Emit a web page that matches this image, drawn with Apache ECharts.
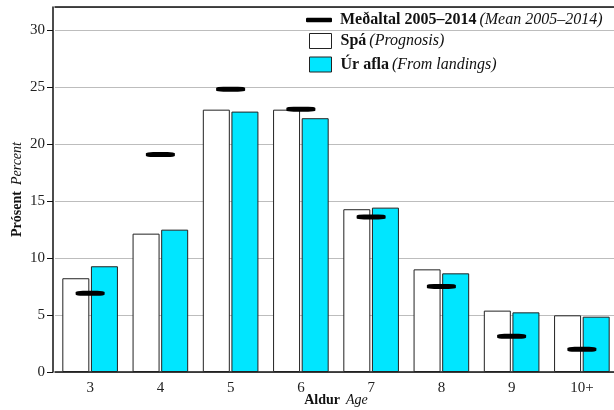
<!DOCTYPE html>
<html>
<head>
<meta charset="utf-8">
<script src="https://cdn.jsdelivr.net/npm/echarts@6/dist/echarts.min.js"></script>
<style>html,body{margin:0;padding:0;background:#fff}#c{width:614px;height:410px}</style>
</head>
<body>
<div id="c"></div>
<script>
const ages = ['3','4','5','6','7','8','9','10+'];
const prognosis = [8.22, 12.13, 23.0, 23.0, 14.27, 9.0, 5.38, 4.97];
const landings = [9.27, 12.48, 22.83, 22.25, 14.41, 8.65, 5.23, 4.85];
const mean0514 = [6.9, 19.06, 24.8, 23.04, 13.6, 7.5, 3.13, 1.99];
const yTicks = [0, 5, 10, 15, 20, 25, 30];

const serif = 'Liberation Serif';
const chart = echarts.init(document.getElementById('c'), null, {renderer: 'canvas'});
chart.setOption({
  animation: false,
  backgroundColor: '#fff',
  textStyle: {fontFamily: serif, color: '#111'},
  grid: {left: 55, top: 7, width: 562, bottom: 38, containLabel: false, outerBoundsMode: 'none'},
  xAxis: [{
    type: 'category', data: ages, position: 'bottom',
    axisLine: {lineStyle: {color: '#111', width: 1.5}},
    axisTick: {show: false},
    axisLabel: {fontFamily: serif, fontSize: 15, color: '#222', margin: 9},
    name: '{b|Aldur}  {i|Age}', nameLocation: 'middle', nameGap: 21, nameMoveOverlap: false,
    nameTextStyle: {rich: {
      b: {fontFamily: serif, fontWeight: 'bold', fontSize: 14, color: '#111'},
      i: {fontFamily: serif, fontStyle: 'italic', fontSize: 14, color: '#111'}
    }}
  }, {
    type: 'category', data: ages, position: 'top',
    axisLine: {show: true, lineStyle: {color: '#111', width: 1.5}},
    axisTick: {show: false}, axisLabel: {show: false}
  }],
  yAxis: {
    type: 'value', min: 0, max: 32, interval: 5, offset: 2,
    axisLine: {show: true, lineStyle: {color: '#111', width: 1.5}},
    axisTick: {show: true, length: 6, lineStyle: {color: '#111'}},
    axisLabel: {fontFamily: serif, fontSize: 15, color: '#222', margin: 8, showMaxLabel: false,
      formatter: v => yTicks.includes(v) ? String(v) : ''},
    splitLine: {lineStyle: {color: '#bdbdbd', width: 1}},
    name: '{b|Prósent}  {i|Percent}', nameLocation: 'middle', nameGap: 29, nameMoveOverlap: false,
    nameTextStyle: {rich: {
      b: {fontFamily: serif, fontWeight: 'bold', fontSize: 14, color: '#111'},
      i: {fontFamily: serif, fontStyle: 'italic', fontSize: 14, color: '#111'}
    }}
  },
  legend: [{
    data: [{name: 'mean', icon: 'roundRect', itemStyle: {color: '#000', opacity: 1}}],
    left: 306, top: 12, itemWidth: 26, itemHeight: 4.5, itemGap: 0, padding: 0,
    selectedMode: false,
    formatter: () => '{b|Meðaltal 2005–2014} {i|(Mean 2005–2014)}',
    textStyle: {padding: [0, 0, 0, 3], rich: {
      b: {fontFamily: serif, fontWeight: 'bold', fontSize: 16, color: '#111'},
      i: {fontFamily: serif, fontStyle: 'italic', fontSize: 16, color: '#111'}
    }}
  }, {
    data: [
      {name: 'Spá', icon: 'rect', itemStyle: {color: '#fff', borderColor: '#222', borderWidth: 1}},
      {name: 'Úr afla', icon: 'rect', itemStyle: {color: '#00e6ff', borderColor: '#222', borderWidth: 1}}
    ],
    orient: 'vertical', left: 309, top: 33, itemWidth: 22, itemHeight: 15, itemGap: 7.5, padding: 0,
    selectedMode: false,
    formatter: n => n === 'Spá' ? '{b|Spá} {i|(Prognosis)}' : '{b|Úr afla} {i|(From landings)}',
    textStyle: {padding: [0, 0, 0, 4], rich: {
      b: {fontFamily: serif, fontWeight: 'bold', fontSize: 16, color: '#111', lineHeight: 15},
      i: {fontFamily: serif, fontStyle: 'italic', fontSize: 16, color: '#111', lineHeight: 15}
    }}
  }],
  series: [{
    name: 'Spá', type: 'bar', data: prognosis, barWidth: 27, barGap: '6%',
    itemStyle: {color: '#fff', borderColor: '#222', borderWidth: 1}
  }, {
    name: 'Úr afla', type: 'bar', data: landings, barWidth: 27,
    itemStyle: {color: '#00e6ff', borderColor: '#222', borderWidth: 1}
  }, {
    name: 'mean', type: 'scatter', data: mean0514, symbol: 'roundRect', symbolSize: [29, 5],
    itemStyle: {color: '#000', opacity: 1}, z: 5
  }]
});
</script>
</body>
</html>
